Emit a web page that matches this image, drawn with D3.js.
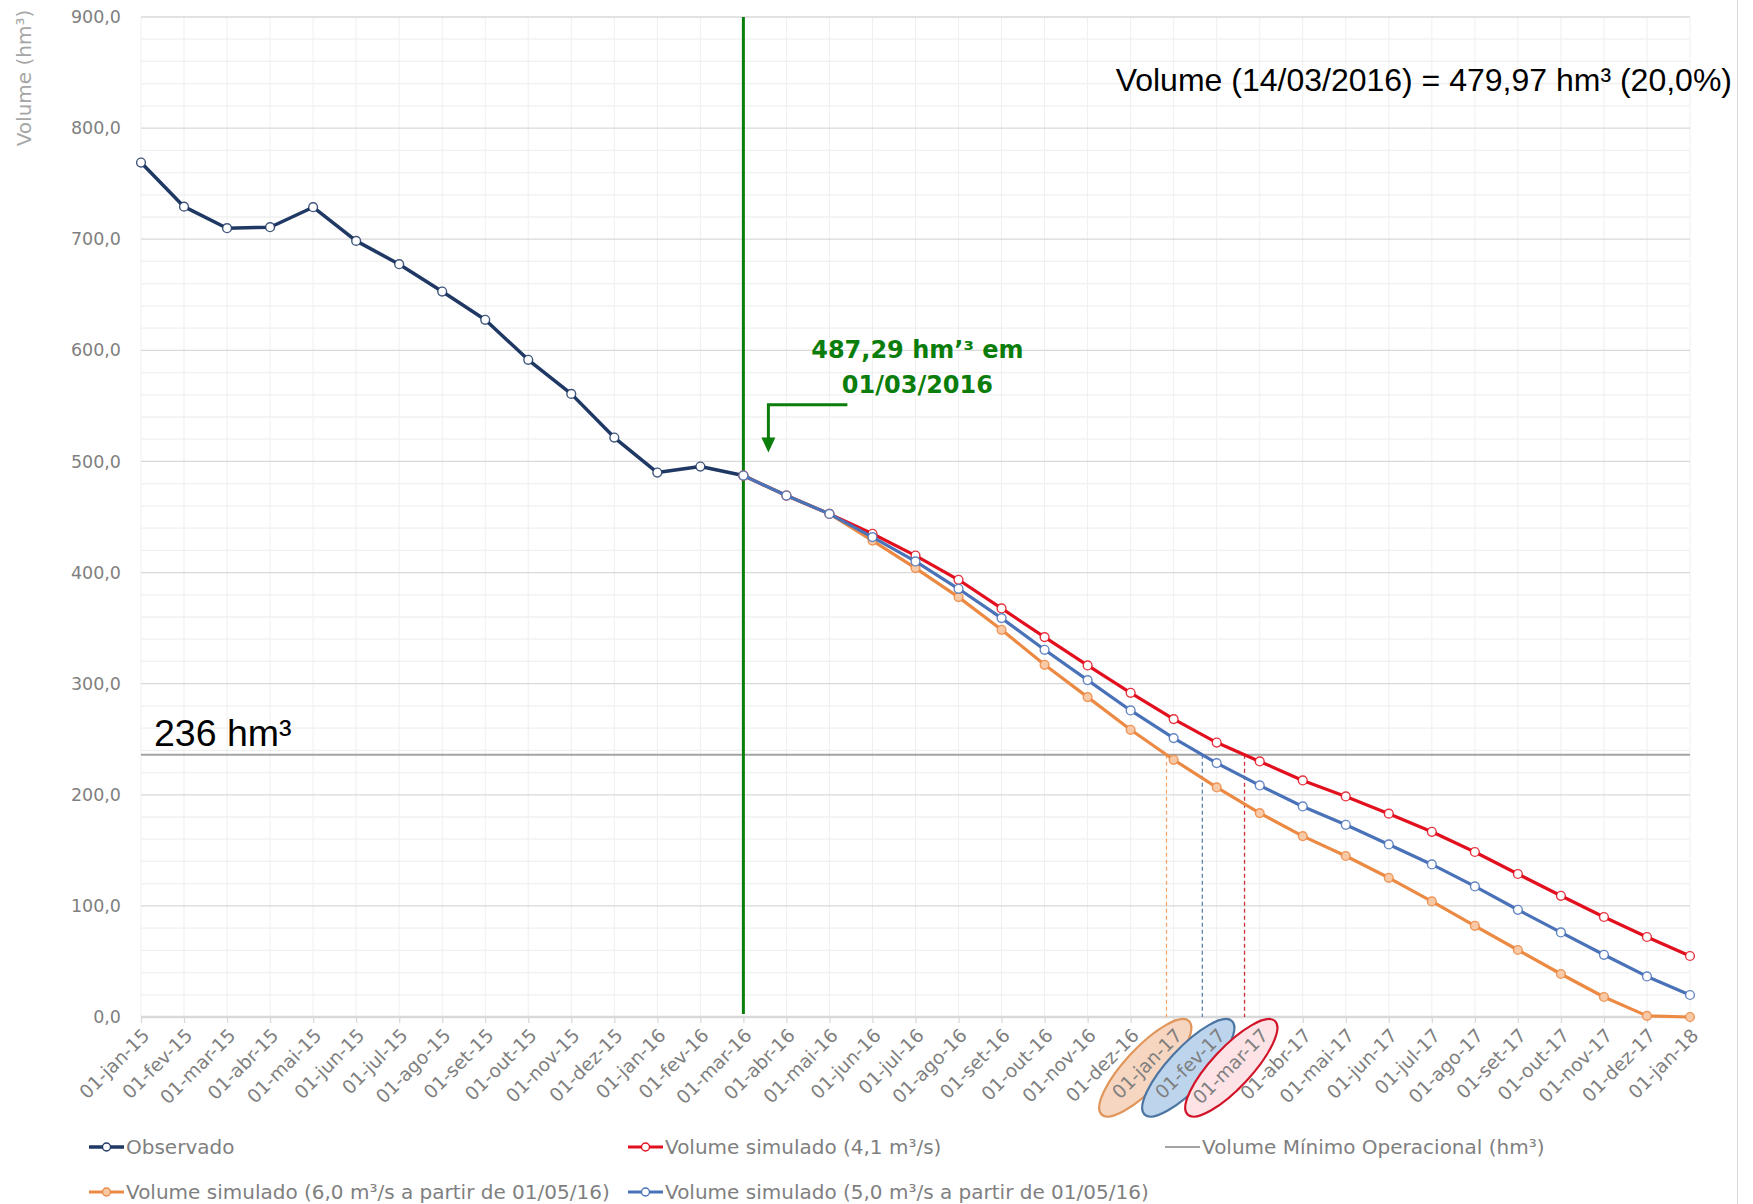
<!DOCTYPE html>
<html>
<head>
<meta charset="utf-8">
<script src="https://cdn.jsdelivr.net/npm/d3@7"></script>
<style>
  body { margin: 0; background: #fff; }
  svg { display: block; font-family: "DejaVu Sans", sans-serif; }
</style>
</head>
<body>
<div id="chart"></div>
<script>
const months = ["01-jan-15","01-fev-15","01-mar-15","01-abr-15","01-mai-15","01-jun-15","01-jul-15",
  "01-ago-15","01-set-15","01-out-15","01-nov-15","01-dez-15","01-jan-16","01-fev-16","01-mar-16",
  "01-abr-16","01-mai-16","01-jun-16","01-jul-16","01-ago-16","01-set-16","01-out-16","01-nov-16",
  "01-dez-16","01-jan-17","01-fev-17","01-mar-17","01-abr-17","01-mai-17","01-jun-17","01-jul-17",
  "01-ago-17","01-set-17","01-out-17","01-nov-17","01-dez-17","01-jan-18"]

// observado: jan-15 .. mar-16
const observado = [769, 729.3, 709.9, 710.8, 728.8, 698.5, 677.5, 652.9, 627.5, 591.5, 560.8, 521.5, 490, 495.4, 487.29]
// simulados: mar-16 .. jan-18
const simStart = 14
const sim41 = [487.29, 469.3, 452.8, 434.9, 415.3, 393.5, 367.7, 341.9, 316.4, 291.8, 268.1, 247.0,
  230.0, 212.9, 198.5, 183.0, 166.7, 148.5, 128.7, 109.1, 90.0, 72.0, 54.9]
const sim50 = [487.29, 469.3, 452.8, 431.9, 410.0, 385.4, 359.0, 330.5, 303.2, 275.9, 251.0, 228.5,
  208.4, 189.5, 173.0, 155.3, 137.3, 117.5, 96.5, 76.1, 56.0, 36.5, 19.8]
const sim60 = [487.29, 469.3, 452.8, 428.8, 404.0, 377.9, 348.5, 317.0, 287.9, 258.5, 231.5, 206.6,
  183.5, 162.8, 144.9, 125.3, 104.0, 82.1, 60.3, 38.7, 18.0, 1.0, 0]
const volMinimo = 236
const yTicks = [0, 100, 200, 300, 400, 500, 600, 700, 800, 900]

const W = 1753, H = 1204
const plotLeft = 141, plotRight = 1690, plotTop = 17, plotBottom = 1017

const C = {
  obs: "#1f3864", red: "#e2101e", blue: "#4a72b8", orange: "#ec8a44",
  orangeFill: "#f8c9a6", gray: "#a3a3a3", green: "#0b7d0b", text: "#7f7f7f"
}

const svg = d3.select("#chart").append("svg").attr("width", W).attr("height", H)

const x = d3.scalePoint().domain(months).range([plotLeft, plotRight])
const y = d3.scaleLinear().domain([0, 900]).range([plotBottom, plotTop])

// grade
const grid = svg.append("g")
grid.selectAll("line.v").data(months).join("line")
  .attr("x1", d => x(d)).attr("x2", d => x(d)).attr("y1", plotTop).attr("y2", plotBottom)
  .attr("stroke", "#efefef").attr("stroke-width", 1)
grid.selectAll("line.h").data(d3.range(0, 901, 20)).join("line")
  .attr("x1", plotLeft).attr("x2", plotRight).attr("y1", d => y(d)).attr("y2", d => y(d))
  .attr("stroke", d => d % 100 === 0 ? "#d9d9d9" : "#f0f0f0")
  .attr("stroke-width", d => d === 0 ? 2.5 : 1.3)

// borda direita da área do gráfico
svg.append("line").attr("x1", 1737.5).attr("x2", 1737.5).attr("y1", 0).attr("y2", H)
  .attr("stroke", "#d9d9d9")

// eixo Y
const yAxis = svg.append("g").attr("transform", "translate(" + plotLeft + ",0)")
  .call(d3.axisLeft(y).tickValues(yTicks).tickSize(0).tickPadding(20)
    .tickFormat(d => d3.format(".1f")(d).replace(".", ",")))
yAxis.select(".domain").remove()
yAxis.selectAll("text").attr("font-size", 17.5).attr("fill", C.text).attr("font-family", "DejaVu Sans")

svg.append("text").attr("transform", "translate(24,78) rotate(-90)")
  .attr("text-anchor", "middle").attr("dy", "0.35em")
  .attr("font-size", 20).attr("fill", "#a6a6a6").text("Volume (hm³)")

// eixo X
const xAxis = svg.append("g").attr("transform", "translate(0," + plotBottom + ")")
  .call(d3.axisBottom(x).tickSize(6).tickFormat(""))
xAxis.select(".domain").remove()
xAxis.selectAll("line").attr("stroke", "#d9d9d9").attr("stroke-width", 1.3)

// elipses dos meses de cruzamento
const labelOffX = 5, labelY = 1032, labelLen = 90
const ellipses = [
  { m: "01-jan-17", fill: "#f6d6c0", stroke: "#e0955a" },
  { m: "01-fev-17", fill: "#bdd4ed", stroke: "#4d75a1" },
  { m: "01-mar-17", fill: "#fde3e6", stroke: "#d2142a" }
]
svg.append("g").selectAll("ellipse").data(ellipses).join("ellipse")
  .attr("transform", d => "translate(" + (x(d.m) + labelOffX) + "," + labelY + ") rotate(-47)")
  .attr("cx", -labelLen / 2 - 4).attr("cy", 0).attr("rx", 64).attr("ry", 20)
  .attr("fill", d => d.fill).attr("stroke", d => d.stroke).attr("stroke-width", 2.2)

svg.append("g").selectAll("text").data(months).join("text")
  .attr("transform", d => "translate(" + (x(d) + labelOffX) + "," + labelY + ") rotate(-45)")
  .attr("text-anchor", "end").attr("dy", "0.35em")
  .attr("font-size", 18.7).attr("fill", C.text).text(d => d)

// linha do volume mínimo
svg.append("line").attr("x1", plotLeft).attr("x2", plotRight)
  .attr("y1", y(volMinimo)).attr("y2", y(volMinimo))
  .attr("stroke", C.gray).attr("stroke-width", 2)
svg.append("text").attr("x", 154).attr("y", y(volMinimo) - 9)
  .attr("font-family", "Liberation Sans, Arial, sans-serif").attr("font-size", 37.5)
  .attr("fill", "#000").text("236 hm³")

// cruzamento de cada simulação com o volume mínimo
const crossX = (vals) => {
  for (let i = 1; i < vals.length; i++) {
    if (vals[i - 1] >= volMinimo && vals[i] < volMinimo) {
      const f = (vals[i - 1] - volMinimo) / (vals[i - 1] - vals[i])
      const x0 = x(months[simStart + i - 1]), x1 = x(months[simStart + i])
      return x0 + f * (x1 - x0)
    }
  }
  return null
}
const drops = [
  { vals: sim60, color: "#f0a66c" },
  { vals: sim50, color: "#5d83b0" },
  { vals: sim41, color: "#c8303a" }
]
svg.append("g").selectAll("line").data(drops).join("line")
  .attr("x1", d => crossX(d.vals)).attr("x2", d => crossX(d.vals))
  .attr("y1", y(volMinimo)).attr("y2", plotBottom)
  .attr("stroke", d => d.color).attr("stroke-width", 1.3).attr("stroke-dasharray", "4,3")

// linha verde de referência
const refMonth = months[simStart]
svg.append("line").attr("x1", x(refMonth)).attr("x2", x(refMonth))
  .attr("y1", y(900)).attr("y2", plotBottom - 3)
  .attr("stroke", C.green).attr("stroke-width", 3)

// séries
const line = d3.line().x(d => x(d.m)).y(d => y(d.v))
const toPts = (vals, start) => vals.map((v, i) => ({ m: months[start + i], v: v }))

const series = [
  { name: "Observado", pts: toPts(observado, 0), color: C.obs, fill: "#fff", w: 3.5 },
  { name: "Volume simulado (4,1 m³/s)", pts: toPts(sim41, simStart), color: C.red, fill: "#fff", w: 3.2 },
  { name: "Volume simulado (6,0 m³/s a partir de 01/05/16)", pts: toPts(sim60, simStart), color: C.orange, fill: C.orangeFill, w: 3.2 },
  { name: "Volume simulado (5,0 m³/s a partir de 01/05/16)", pts: toPts(sim50, simStart), color: C.blue, fill: "#fff", w: 3.2 }
]

series.forEach(s => {
  const g = svg.append("g")
  g.append("path").datum(s.pts).attr("d", line)
    .attr("fill", "none").attr("stroke", s.color).attr("stroke-width", s.w)
    .attr("stroke-linejoin", "round")
  g.selectAll("circle").data(s.pts).join("circle")
    .attr("cx", d => x(d.m)).attr("cy", d => y(d.v)).attr("r", 4.4)
    .attr("fill", s.fill).attr("stroke", s.color).attr("stroke-width", 1.4)
    .attr("stroke-opacity", 0.85)
})

// anotação verde
const ax = x(refMonth)
const arrow = svg.append("g").attr("stroke", C.green).attr("fill", "none").attr("stroke-width", 3)
arrow.append("path")
  .attr("d", "M" + (ax + 104) + "," + y(551) + "H" + (ax + 25) + "V" + (y(508) - 14))
arrow.append("path").attr("fill", C.green).attr("stroke", "none")
  .attr("d", "M" + (ax + 18) + "," + (y(508) - 15) + "L" + (ax + 32) + "," + (y(508) - 15) +
    "L" + (ax + 25) + "," + y(508) + "Z")

const noteG = svg.append("g").attr("fill", C.green).attr("font-weight", "bold")
  .attr("font-size", 24).attr("text-anchor", "middle")
noteG.append("text").attr("x", ax + 174).attr("y", 358).text("487,29 hm’³ em")
noteG.append("text").attr("x", ax + 174).attr("y", 393).text("01/03/2016")

svg.append("text").attr("x", 1732).attr("y", 91).attr("text-anchor", "end")
  .attr("font-family", "Liberation Sans, Arial, sans-serif").attr("font-size", 32)
  .attr("fill", "#000").text("Volume (14/03/2016) = 479,97 hm³ (20,0%)")

// legenda
const legend = [
  { s: series[0], x: 89, y: 1147 },
  { s: series[1], x: 628, y: 1147 },
  { s: { name: "Volume Mínimo Operacional (hm³)", color: C.gray, w: 2 }, x: 1165, y: 1147, noMark: true },
  { s: series[2], x: 89, y: 1192 },
  { s: series[3], x: 628, y: 1192 }
]
const lg = svg.append("g").selectAll("g").data(legend).join("g")
  .attr("transform", d => "translate(" + d.x + "," + d.y + ")")
lg.append("line").attr("x1", 0).attr("x2", 35)
  .attr("stroke", d => d.s.color).attr("stroke-width", d => d.s.w)
lg.filter(d => !d.noMark).append("circle").attr("cx", 17.5).attr("r", 4)
  .attr("fill", d => d.s.fill).attr("stroke", d => d.s.color).attr("stroke-width", 1.4)
lg.append("text").attr("x", 37).attr("dy", "0.35em")
  .attr("font-size", 20).attr("fill", C.text).text(d => d.s.name)
</script>
</body>
</html>
